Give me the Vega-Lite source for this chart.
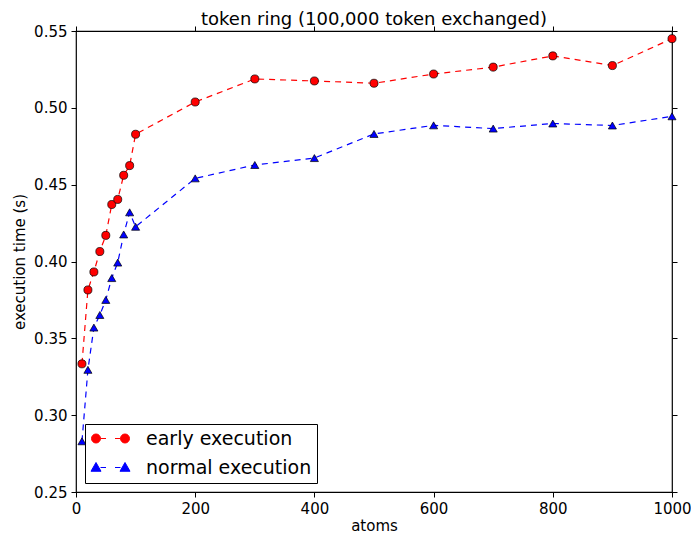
{
  "$schema": "https://vega.github.io/schema/vega-lite/v6.json",
  "width": 596,
  "height": 461,
  "autosize": {"type": "none"},
  "padding": {"left": 76, "top": 31, "right": 19, "bottom": 41},
  "background": "white",
  "title": {"text": "token ring (100,000 token exchanged)", "font": "DejaVu Sans", "fontSize": 18, "fontWeight": "normal", "color": "black", "offset": -5, "anchor": "middle"},
  "config": {
    "font": "DejaVu Sans",
    "view": {"stroke": "black", "strokeWidth": 1.2},
    "axis": {"grid": false, "tickDirection": "in", "labelFlush": false, "labelFont": "DejaVu Sans", "titleFont": "DejaVu Sans", "labelFontSize": 15, "titleFontSize": 15, "titleFontWeight": "normal", "labelColor": "black", "titleColor": "black", "domain": false, "tickColor": "black", "tickSize": 5}
  },
  "data": {"values": [
    {"atoms": 10, "time": 0.3334, "series": "early execution"},
    {"atoms": 20, "time": 0.3815, "series": "early execution"},
    {"atoms": 30, "time": 0.3932, "series": "early execution"},
    {"atoms": 40, "time": 0.4065, "series": "early execution"},
    {"atoms": 50, "time": 0.4170, "series": "early execution"},
    {"atoms": 60, "time": 0.4371, "series": "early execution"},
    {"atoms": 70, "time": 0.4404, "series": "early execution"},
    {"atoms": 80, "time": 0.4561, "series": "early execution"},
    {"atoms": 90, "time": 0.4624, "series": "early execution"},
    {"atoms": 100, "time": 0.4828, "series": "early execution"},
    {"atoms": 200, "time": 0.5038, "series": "early execution"},
    {"atoms": 300, "time": 0.5188, "series": "early execution"},
    {"atoms": 400, "time": 0.5175, "series": "early execution"},
    {"atoms": 500, "time": 0.5160, "series": "early execution"},
    {"atoms": 600, "time": 0.5220, "series": "early execution"},
    {"atoms": 700, "time": 0.5265, "series": "early execution"},
    {"atoms": 800, "time": 0.5338, "series": "early execution"},
    {"atoms": 900, "time": 0.5275, "series": "early execution"},
    {"atoms": 1000, "time": 0.5450, "series": "early execution"},
    {"atoms": 10, "time": 0.2830, "series": "normal execution"},
    {"atoms": 20, "time": 0.3295, "series": "normal execution"},
    {"atoms": 30, "time": 0.3570, "series": "normal execution"},
    {"atoms": 40, "time": 0.3652, "series": "normal execution"},
    {"atoms": 50, "time": 0.3750, "series": "normal execution"},
    {"atoms": 60, "time": 0.3892, "series": "normal execution"},
    {"atoms": 70, "time": 0.3993, "series": "normal execution"},
    {"atoms": 80, "time": 0.4176, "series": "normal execution"},
    {"atoms": 90, "time": 0.4320, "series": "normal execution"},
    {"atoms": 100, "time": 0.4226, "series": "normal execution"},
    {"atoms": 200, "time": 0.4541, "series": "normal execution"},
    {"atoms": 300, "time": 0.4628, "series": "normal execution"},
    {"atoms": 400, "time": 0.4673, "series": "normal execution"},
    {"atoms": 500, "time": 0.4830, "series": "normal execution"},
    {"atoms": 600, "time": 0.4886, "series": "normal execution"},
    {"atoms": 700, "time": 0.4865, "series": "normal execution"},
    {"atoms": 800, "time": 0.4898, "series": "normal execution"},
    {"atoms": 900, "time": 0.4885, "series": "normal execution"},
    {"atoms": 1000, "time": 0.4945, "series": "normal execution"}
  ]},
  "resolve": {"axis": {"x": "independent", "y": "independent"}},
  "layer": [
    {
      "encoding": {
        "x": {"field": "atoms", "type": "quantitative", "scale": {"domain": [0, 1000], "nice": false, "zero": false}, "axis": {"title": "atoms", "values": [0, 200, 400, 600, 800, 1000], "format": "d", "labelPadding": 4, "titlePadding": 2}},
        "y": {"field": "time", "type": "quantitative", "scale": {"domain": [0.25, 0.55], "nice": false, "zero": false}, "axis": {"title": "execution time (s)", "values": [0.25, 0.3, 0.35, 0.4, 0.45, 0.5, 0.55], "format": ".2f", "labelPadding": 4, "titlePadding": 6}},
        "color": {"field": "series", "type": "nominal", "scale": {"domain": ["early execution", "normal execution"], "range": ["#ff0000", "#0000ff"]}, "legend": {
          "orient": "bottom-left", "title": null, "offset": 9, "labelFontSize": 19, "labelFont": "DejaVu Sans", "labelColor": "black", "labelLimit": 0,
          "strokeColor": "black", "fillColor": "white", "padding": 5, "symbolSize": 100, "symbolStrokeWidth": 1, "rowPadding": 9, "labelOffset": 26, "symbolOffset": 11,
          "encode": {"symbols": {"update": {
            "shape": {"signal": "datum.value === 'early execution' ? 'M-3.8,0 A0.9,0.9 0 1,1 -2.0,0 A0.9,0.9 0 1,1 -3.8,0 Z M2.0,0 A0.9,0.9 0 1,1 3.8,0 A0.9,0.9 0 1,1 2.0,0 Z M-2.0,0 L-0.9,0 M0.9,0 L2.0,0' : 'M-2.9,-1.0 L-1.9,0.75 L-3.9,0.75 Z M2.9,-1.0 L3.9,0.75 L1.9,0.75 Z M-2.0,0 L-0.9,0 M0.9,0 L2.0,0'"},
            "stroke": {"signal": "datum.value === 'early execution' ? '#ff0000' : '#0000ff'"},
            "fill": {"signal": "datum.value === 'early execution' ? '#ff0000' : '#0000ff'"}
          }}}
        }}
      },
      "layer": [
        {"mark": {"type": "line", "strokeDash": [6, 5], "strokeWidth": 1.2, "clip": true}},
        {"mark": {"type": "point", "filled": true, "size": 65, "stroke": "black", "strokeWidth": 0.7, "opacity": 1, "clip": false},
         "encoding": {"shape": {"condition": {"test": "datum.series === 'early execution'", "value": "circle"}, "value": "triangle-up"}}}
      ]
    },
    {
      "mark": {"type": "point", "opacity": 0},
      "encoding": {
        "x": {"field": "atoms", "type": "quantitative", "scale": {"domain": [0, 1000], "nice": false, "zero": false}, "axis": {"orient": "top", "title": null, "labels": false, "values": [0, 200, 400, 600, 800, 1000]}},
        "y": {"field": "time", "type": "quantitative", "scale": {"domain": [0.25, 0.55], "nice": false, "zero": false}, "axis": {"orient": "right", "title": null, "labels": false, "values": [0.25, 0.3, 0.35, 0.4, 0.45, 0.5, 0.55]}}
      }
    }
  ]
}
